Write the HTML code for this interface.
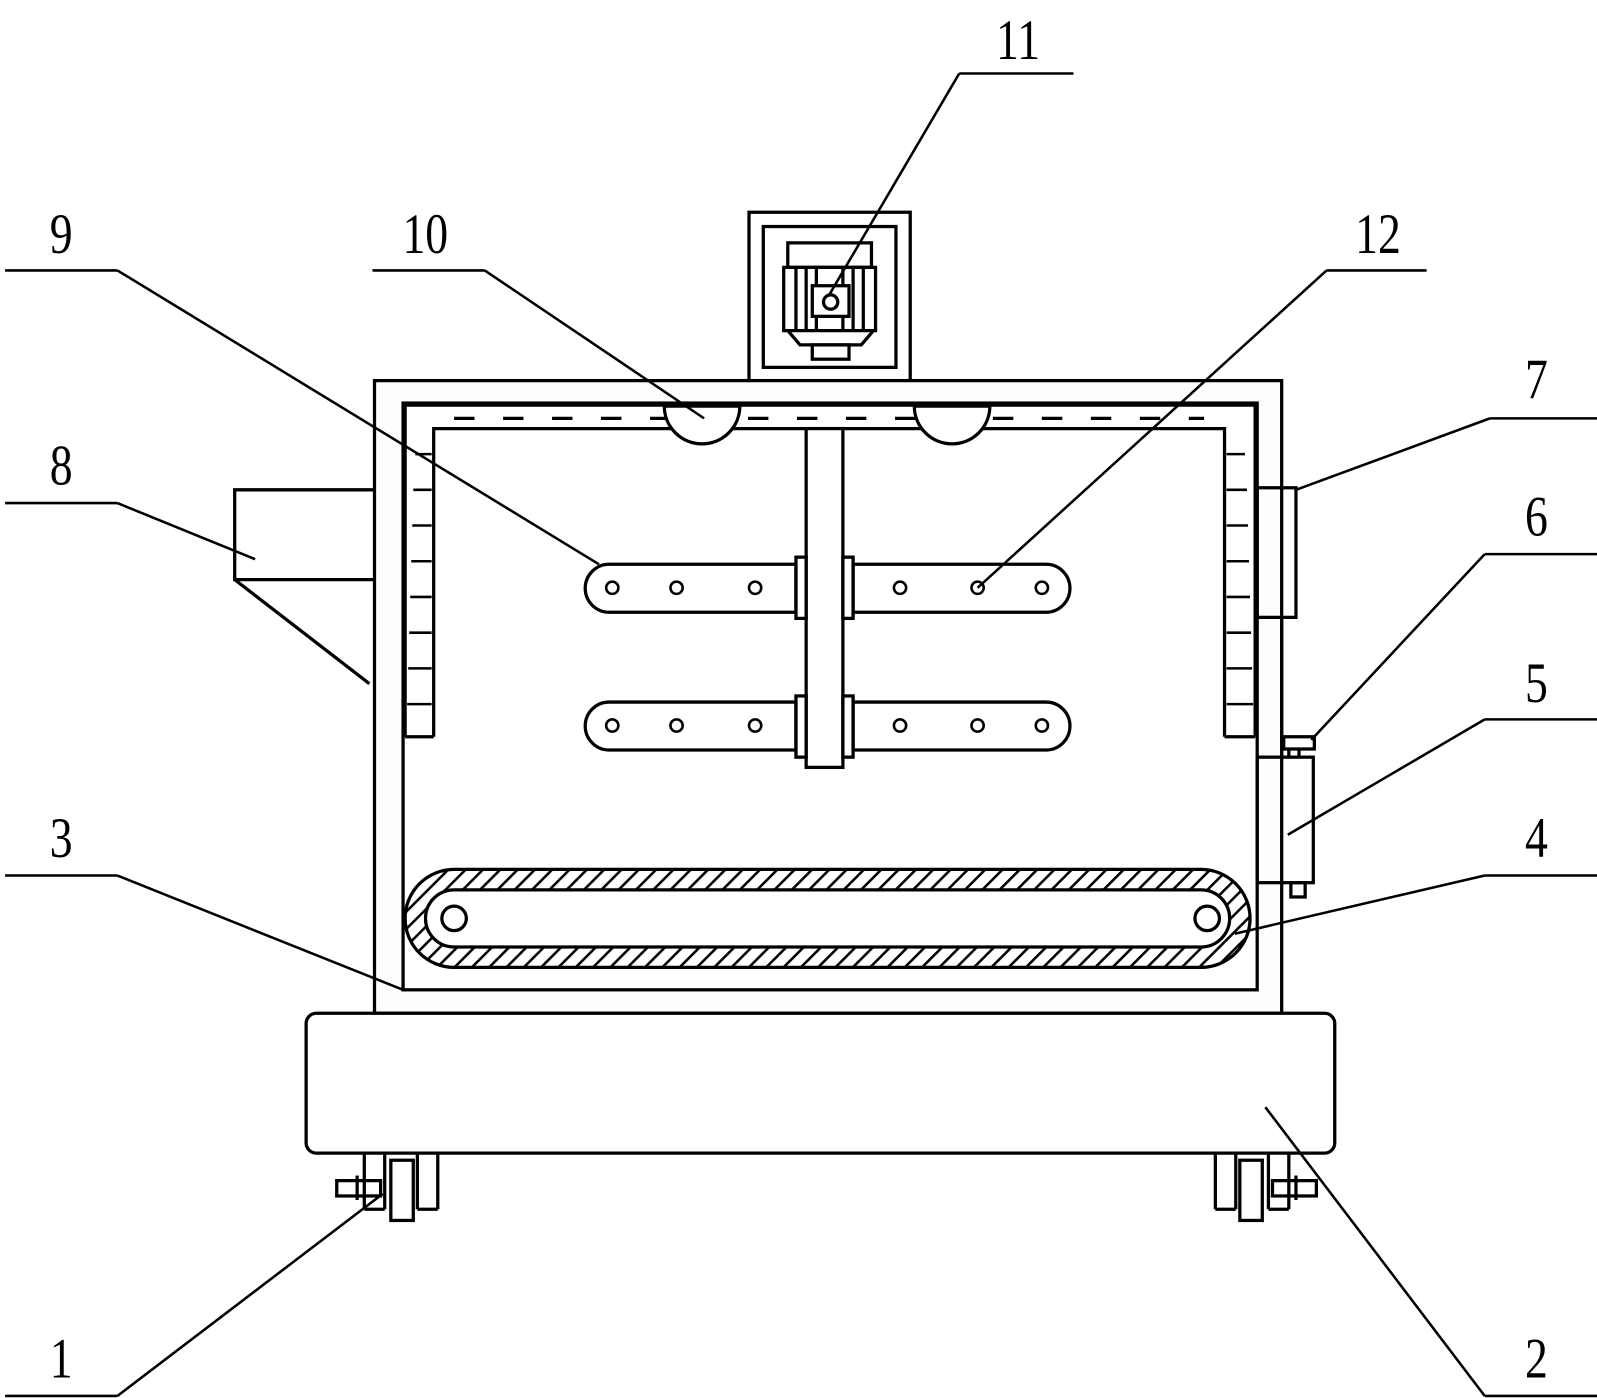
<!DOCTYPE html>
<html><head><meta charset="utf-8"><style>html,body{margin:0;padding:0;background:#fff}svg{display:block}</style></head>
<body>
<svg width="1597" height="1398" viewBox="0 0 1565 1370" preserveAspectRatio="none" xmlns="http://www.w3.org/2000/svg">
<defs>
<pattern id="h" width="12" height="12" patternUnits="userSpaceOnUse" patternTransform="rotate(45)"><rect width="12" height="12" fill="#fff"/><line x1="0" y1="0" x2="0" y2="12" stroke="#000" stroke-width="5"/></pattern>
<g id="wheel">
<line x1="357" y1="1130" x2="357" y2="1185"/><line x1="377" y1="1130" x2="377" y2="1185"/><line x1="357" y1="1185" x2="377" y2="1185"/>
<line x1="409" y1="1130" x2="409" y2="1185"/><line x1="429" y1="1130" x2="429" y2="1185"/><line x1="409" y1="1185" x2="429" y2="1185"/>
<rect x="383" y="1137" width="22" height="59"/><rect x="330" y="1157" width="43" height="15"/>
<line x1="350" y1="1152" x2="350" y2="1176"/>
</g>
</defs>
<g fill="none" stroke="#000" stroke-width="3.2">
<rect x="734" y="208" width="158" height="165"/>
<rect x="748" y="222" width="130" height="138"/>
<rect x="772" y="238" width="82" height="24"/>
<rect x="768" y="262" width="90" height="62"/>
<line x1="780" y1="262" x2="780" y2="324"/><line x1="790" y1="262" x2="790" y2="324"/><line x1="800" y1="262" x2="800" y2="324"/><line x1="826" y1="262" x2="826" y2="324"/><line x1="836" y1="262" x2="836" y2="324"/><line x1="846" y1="262" x2="846" y2="324"/>
<rect x="796" y="280" width="36" height="30" fill="#fff"/>
<circle cx="814" cy="296" r="7"/>
<path d="M772 324 L784 338 L844 338 L856 324"/>
<rect x="796" y="338" width="36" height="14"/>
<rect x="367" y="373" width="889" height="620" fill="#fdfdfd"/>
<rect x="395" y="395" width="837" height="575" fill="#fff"/>
<path d="M397 722 L397 397 L1230 397 L1230 722 M425 722 L425 420 L1200 420 L1200 722 M397 722 L425 722 M1200 722 L1230 722"/>
<line x1="445" y1="410" x2="1180" y2="410" stroke-dasharray="20 28"/>
<g stroke-width="2.5">
<line x1="407" y1="445" x2="423" y2="445"/><line x1="405" y1="480" x2="423" y2="480"/><line x1="404" y1="515" x2="423" y2="515"/><line x1="403" y1="550" x2="423" y2="550"/><line x1="402" y1="585" x2="423" y2="585"/><line x1="401" y1="620" x2="423" y2="620"/><line x1="400" y1="655" x2="423" y2="655"/><line x1="399" y1="690" x2="423" y2="690"/>
<line x1="1202" y1="445" x2="1220" y2="445"/><line x1="1202" y1="480" x2="1222" y2="480"/><line x1="1202" y1="515" x2="1223" y2="515"/><line x1="1202" y1="550" x2="1224" y2="550"/><line x1="1202" y1="585" x2="1225" y2="585"/><line x1="1202" y1="620" x2="1226" y2="620"/><line x1="1202" y1="655" x2="1227" y2="655"/><line x1="1202" y1="690" x2="1228" y2="690"/>
</g>
<path d="M651 398 A37 37 0 0 0 725 398 Z" fill="#fff"/>
<path d="M896 398 A37 37 0 0 0 970 398 Z" fill="#fff"/>
<rect x="790" y="420" width="36" height="332" fill="#fff"/>
<path d="M597 553 L780 553 L780 600 L597 600 A23.5 23.5 0 0 1 597 553 Z"/>
<path d="M836 553 L1025 553 A23.5 23.5 0 0 1 1025 600 L836 600 Z"/>
<path d="M597 688 L780 688 L780 735 L597 735 A23.5 23.5 0 0 1 597 688 Z"/>
<path d="M836 688 L1025 688 A23.5 23.5 0 0 1 1025 735 L836 735 Z"/>
<rect x="780" y="546" width="10" height="60"/><rect x="826" y="546" width="10" height="60"/>
<rect x="780" y="682" width="10" height="60"/><rect x="826" y="682" width="10" height="60"/>
<g stroke-width="2.5">
<circle cx="600" cy="576" r="6"/><circle cx="663" cy="576" r="6"/><circle cx="740" cy="576" r="6"/><circle cx="882" cy="576" r="6"/><circle cx="958" cy="576" r="6"/><circle cx="1021" cy="576" r="6"/>
<circle cx="600" cy="711" r="6"/><circle cx="663" cy="711" r="6"/><circle cx="740" cy="711" r="6"/><circle cx="882" cy="711" r="6"/><circle cx="958" cy="711" r="6"/><circle cx="1021" cy="711" r="6"/>
</g>
<path d="M367 480 L230 480 L230 568 L367 568 M230 568 L362 670"/>
<rect x="1232" y="478" width="38" height="127"/>
<line x1="1256" y1="605" x2="1256" y2="742"/>
<rect x="1232" y="742" width="55" height="123"/>
<rect x="1258" y="722" width="30" height="12"/>
<line x1="1263" y1="734" x2="1263" y2="742"/><line x1="1273" y1="734" x2="1273" y2="742"/>
<rect x="1265" y="865" width="14" height="14"/>
<rect x="397" y="852" width="828" height="96" rx="48" fill="url(#h)"/>
<rect x="417" y="872" width="788" height="56" rx="28" fill="#fff"/>
<circle cx="445" cy="900" r="12"/><circle cx="1183" cy="900" r="12"/>
<rect x="300" y="993" width="1008" height="137" rx="10" fill="#fff"/>
<use href="#wheel"/>
<use href="#wheel" transform="translate(1620 0) scale(-1 1)"/>
<g stroke-width="2.5">
<line x1="940" y1="72" x2="1052" y2="72"/><line x1="940" y1="72" x2="812" y2="290"/>
<line x1="365" y1="265" x2="475" y2="265"/><line x1="475" y1="265" x2="690" y2="410"/>
<line x1="5" y1="265" x2="115" y2="265"/><line x1="115" y1="265" x2="587" y2="553"/>
<line x1="1300" y1="265" x2="1398" y2="265"/><line x1="1300" y1="265" x2="958" y2="576"/>
<line x1="1460" y1="410" x2="1565" y2="410"/><line x1="1460" y1="410" x2="1270" y2="480"/>
<line x1="5" y1="493" x2="115" y2="493"/><line x1="115" y1="493" x2="250" y2="548"/>
<line x1="1455" y1="543" x2="1565" y2="543"/><line x1="1455" y1="543" x2="1285" y2="725"/>
<line x1="1455" y1="705" x2="1565" y2="705"/><line x1="1455" y1="705" x2="1262" y2="818"/>
<line x1="5" y1="858" x2="115" y2="858"/><line x1="115" y1="858" x2="395" y2="970"/>
<line x1="1455" y1="858" x2="1565" y2="858"/><line x1="1455" y1="858" x2="1210" y2="915"/>
<line x1="5" y1="1368" x2="115" y2="1368"/><line x1="115" y1="1368" x2="375" y2="1170"/>
<line x1="1455" y1="1368" x2="1565" y2="1368"/><line x1="1455" y1="1368" x2="1240" y2="1085"/>
</g>
</g>
<g font-family="Liberation Serif, serif" font-size="56" fill="#000" text-anchor="middle" transform="scale(0.8 1)">
<text x="1247" y="58">11</text>
<text x="521" y="248">10</text>
<text x="75" y="248">9</text>
<text x="1688" y="248">12</text>
<text x="1882" y="390">7</text>
<text x="75" y="475">8</text>
<text x="1882" y="525">6</text>
<text x="1882" y="688">5</text>
<text x="75" y="840">3</text>
<text x="1882" y="840">4</text>
<text x="75" y="1350">1</text>
<text x="1882" y="1350">2</text>
</g>
</svg>
</body></html>
